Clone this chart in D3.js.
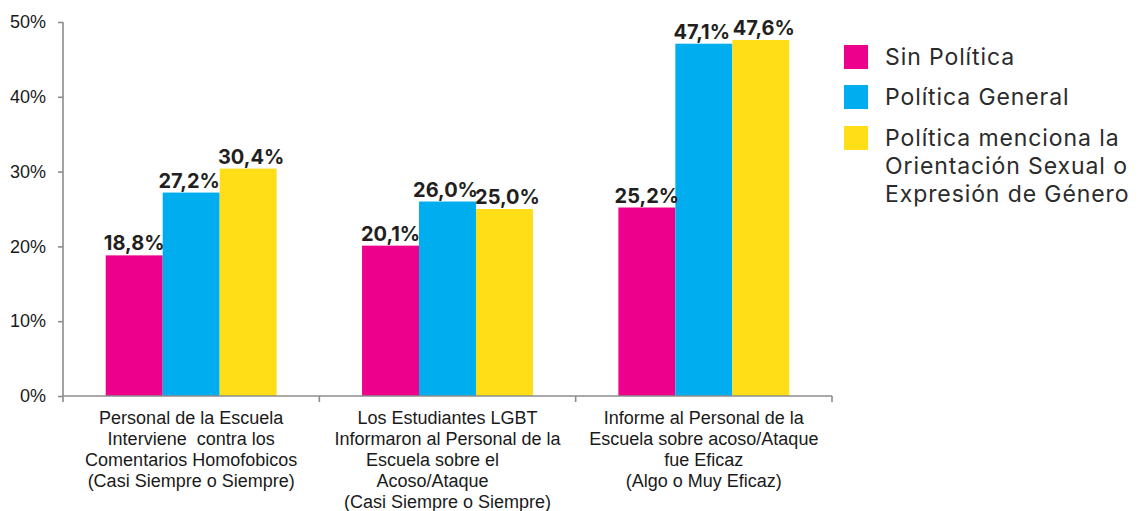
<!DOCTYPE html>
<html>
<head>
<meta charset="utf-8">
<script src="https://cdn.jsdelivr.net/npm/d3@7"></script>
<style>
  html, body { margin: 0; padding: 0; background: #fff; }
  svg { display: block; }
</style>
</head>
<body>
<svg id="chart" width="1139" height="511"></svg>
<script>
// Categories (multi-line labels) and series values, in percent
const categories = ["c1", "c2", "c3"];
const categoryLabels = [
  ["Personal de la Escuela", "Interviene  contra los", "Comentarios Homofobicos", "(Casi Siempre o Siempre)"],
  ["Los Estudiantes LGBT", "Informaron al Personal de la", "Escuela sobre el      ", "Acoso/Ataque      ", "(Casi Siempre o Siempre)"],
  ["Informe al Personal de la", "Escuela sobre acoso/Ataque", "fue Eficaz", "(Algo o Muy Eficaz)"]
];
const seriesNames = ["Sin Política", "Política General", "Política menciona la Orientación Sexual o Expresión de Género"];
const legendLines = [
  ["Sin Política"],
  ["Política General"],
  ["Política menciona la", "Orientación Sexual o", "Expresión de Género"]
];
const sinPolitica = [18.8, 20.1, 25.2];
const politicaGeneral = [27.2, 26.0, 47.1];
const politicaMenciona = [30.4, 25.0, 47.6];
const yTicks = [0, 10, 20, 30, 40, 50];
const colors = ["#EC008C", "#00AEEF", "#FFDD17"];

const series = [sinPolitica, politicaGeneral, politicaMenciona];

const svg = d3.select("#chart");
const plotLeft = 63, plotRight = 832, plotTop = 22, plotBottom = 396;

const x0 = d3.scaleBand().domain(categories).range([plotLeft, plotRight]).padding(0);
const x1 = d3.scaleBand().domain(d3.range(series.length))
  .range([0, x0.bandwidth()]).paddingInner(0).paddingOuter(0.75);
const y = d3.scaleLinear().domain([0, 50]).range([plotBottom, plotTop]);

const axisColor = "#8c8c8c";
const labelFont = "'Liberation Sans', Arial, sans-serif";

// Y axis
const yAxis = svg.append("g")
  .attr("transform", `translate(${plotLeft},0)`)
  .call(d3.axisLeft(y).tickValues(yTicks).tickSize(5).tickPadding(12).tickFormat(d => d + "%"));
yAxis.select(".domain").attr("stroke", axisColor).attr("stroke-width", 1.6).attr("d", `M0,${plotTop}V${plotBottom}`);
yAxis.selectAll(".tick line").attr("stroke", axisColor).attr("stroke-width", 1.6);
yAxis.selectAll(".tick text")
  .attr("fill", "#1a1a1a")
  .style("font-family", labelFont)
  .style("font-size", "18px");

// Bars
const groups = svg.append("g").selectAll("g")
  .data(categories)
  .join("g")
  .attr("transform", d => `translate(${x0(d)},0)`);

groups.selectAll("rect")
  .data((d, i) => series.map((s, k) => ({ k, v: s[i] })))
  .join("rect")
  .attr("x", d => x1(d.k))
  .attr("width", x1.bandwidth())
  .attr("y", d => y(d.v))
  .attr("height", d => y(0) - y(d.v))
  .attr("fill", d => colors[d.k]);

// Value labels
groups.selectAll("text.val")
  .data((d, i) => series.map((s, k) => ({ k, v: s[i] })))
  .join("text")
  .attr("class", "val")
  .attr("x", d => x1(d.k) + x1.bandwidth() / 2 + (d.k === 1 ? -2 : d.k === 2 ? 3 : 0))
  .attr("y", d => y(d.v) - 5)
  .attr("text-anchor", "middle")
  .attr("fill", "#231f20")
  .style("font-family", "Inter, 'Open Sans', sans-serif")
  .style("font-weight", "700")
  .style("font-size", "20px")
  .text(d => d.v.toFixed(1).replace(".", ",") + "%");

// X axis
const xAxis = svg.append("g");
xAxis.append("line")
  .attr("x1", plotLeft).attr("x2", plotRight)
  .attr("y1", plotBottom).attr("y2", plotBottom)
  .attr("stroke", axisColor).attr("stroke-width", 1.6);
const boundaries = categories.map(c => x0(c)).concat([x0(categories[categories.length - 1]) + x0.bandwidth()]);
xAxis.selectAll("line.tick")
  .data(boundaries)
  .join("line")
  .attr("class", "tick")
  .attr("x1", d => d).attr("x2", d => d)
  .attr("y1", plotBottom).attr("y2", plotBottom + 6)
  .attr("stroke", axisColor).attr("stroke-width", 1.6);

// Category labels
categories.forEach((c, i) => {
  const t = svg.append("text")
    .attr("text-anchor", "middle")
    .attr("fill", "#1a1a1a")
    .style("font-family", labelFont)
    .style("font-size", "18px")
    .style("white-space", "pre");
  categoryLabels[i].forEach((line, j) => {
    t.append("tspan")
      .attr("x", x0(c) + x0.bandwidth() / 2)
      .attr("y", 424 + j * 21)
      .text(line);
  });
});

// Legend
const legend = svg.append("g");
const legendY = [45, 85, 126];
seriesNames.forEach((name, k) => {
  legend.append("rect")
    .attr("x", 844).attr("y", legendY[k])
    .attr("width", 24).attr("height", 24)
    .attr("fill", colors[k]);
  const t = legend.append("text")
    .attr("fill", "#2b2b2b")
    .style("font-family", "Inter, 'Noto Sans', sans-serif")
    .style("font-weight", "400")
    .style("font-size", "23px")
    .style("letter-spacing", "0.9px");
  legendLines[k].forEach((line, j) => {
    t.append("tspan")
      .attr("x", 885)
      .attr("y", legendY[k] + 20 + j * 28)
      .text(line);
  });
});
</script>
</body>
</html>
